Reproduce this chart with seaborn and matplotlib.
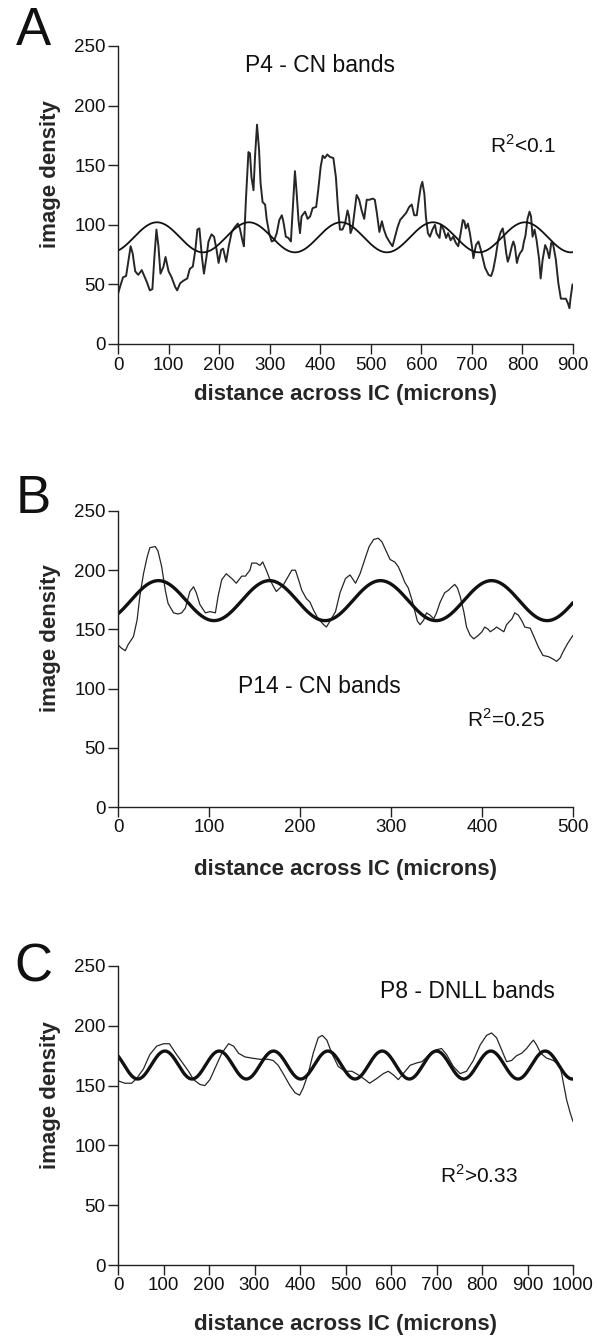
import numpy as np
import pandas as pd
import matplotlib
matplotlib.use("Agg")
import matplotlib.pyplot as plt
import seaborn as sns

# ---- panel A: P4 - CN bands (density trace) ----
a_x = [0, 4, 10, 16, 20, 25, 29, 34, 40, 47, 50, 57, 63, 68, 72, 76, 80, 84, 90, 94,
       100, 106, 113, 117, 123, 129, 137, 142, 148, 153, 157, 161, 166, 170, 175, 179,
       185, 190, 195, 199, 204, 208, 214, 219, 225, 231, 237, 241, 246, 249, 253, 258,
       261, 264, 268, 271, 275, 279, 282, 286, 291, 294, 299, 304, 309, 314, 319, 324,
       327, 332, 337, 342, 346, 350, 353, 357, 360, 363, 370, 375, 380, 385, 392, 396,
       401, 405, 409, 414, 419, 426, 431, 435, 439, 444, 449, 454, 457, 460, 464, 469,
       472, 477, 482, 487, 492, 497, 504, 508, 512, 517, 522, 526, 531, 538, 543, 548,
       553, 558, 564, 570, 576, 581, 586, 591, 595, 599, 602, 606, 609, 613, 617, 622,
       627, 630, 636, 639, 644, 649, 653, 658, 663, 668, 673, 677, 682, 685, 688, 692,
       696, 700, 703, 708, 713, 717, 721, 726, 733, 738, 742, 747, 752, 757, 761, 764,
       768, 771, 774, 779, 782, 785, 789, 792, 795, 800, 803, 806, 810, 814, 817, 820,
       824, 828, 833, 836, 840, 845, 849, 853, 857, 861, 866, 871, 876, 881, 886, 890,
       893, 895, 899]
a_y = [42, 48, 56, 57, 68, 82, 76, 61, 58, 62, 59, 52, 45, 46, 73, 96, 82, 59, 65, 73,
       61, 56, 48, 45, 51, 53, 55, 63, 65, 79, 96, 97, 73, 59, 73, 86,
       92, 90, 79, 68, 79, 80, 69, 82, 94, 98, 101, 97, 87, 82, 121, 161,
       160, 140, 129, 157, 184, 163, 135, 119, 117, 105, 93, 86, 87, 93, 104, 108,
       103, 90, 89, 86, 115, 145, 129, 104, 93, 107, 111, 105, 107, 114, 115, 129,
       149, 158, 156, 159, 157, 156, 140, 115, 96, 96, 101, 112, 107, 93, 98, 115,
       125, 121, 112, 105, 121, 121, 122, 121, 110, 94, 103, 96, 90, 85, 82, 90,
       98, 104, 107, 110, 115, 117, 108, 108, 121, 132, 136, 126, 107, 93, 90, 96,
       100, 93, 89, 100, 96, 89, 93, 87, 90, 85, 82, 91, 104, 103, 97, 101,
       93, 82, 72, 83, 86, 80, 73, 64, 58, 57, 62, 73, 87, 94, 97, 90,
       76, 69, 73, 82, 86, 82, 68, 73, 76, 79, 86, 91, 105, 111, 107, 90,
       96, 87, 71, 55, 71, 83, 79, 72, 85, 83, 71, 51, 38, 38, 38, 34,
       30, 38, 50]

# ---- panel B: P14 - CN bands ----
b_x = [0, 4, 8, 11, 17, 21, 24, 28, 32, 35, 41, 44, 48, 52, 55, 61, 66, 70, 74, 79,
       83, 86, 90, 96, 101, 107, 110, 114, 119, 125, 130, 136, 140, 145, 147, 152, 156,
       159, 163, 167, 171, 174, 178, 182, 185, 191, 195, 198, 202, 207, 211, 215, 220,
       226, 229, 233, 239, 244, 250, 255, 261, 266, 272, 276, 281, 286, 290, 293, 299,
       304, 308, 312, 315, 319, 323, 326, 329, 332, 336, 339, 343, 347, 350, 354, 359,
       363, 367, 370, 373, 376, 380, 383, 387, 391, 396, 400, 403, 407, 409, 413, 416,
       420, 424, 427, 433, 436, 440, 444, 447, 453, 457, 462, 467, 473, 478, 482, 486,
       489, 494, 500]
b_y = [137, 134, 132, 137, 144, 158, 178, 197, 211, 219, 220, 216, 203, 183, 172, 164, 163, 164, 168, 182,
       186, 181, 171, 164, 165, 164, 178, 192, 197, 193, 189, 195, 195, 200, 206, 206, 204,
       207, 200, 192, 186, 182, 185, 188, 192, 200, 200, 193, 183, 176, 173, 166, 159,
       154, 152, 157, 165, 181, 193, 196, 189, 197, 211, 220, 226, 227, 224, 219, 209,
       207, 203, 196, 190, 185, 175, 166, 157, 154, 158, 164, 162, 159, 164, 173, 181,
       183, 186, 188, 185, 178, 165, 152, 145, 142, 145, 148, 152, 150, 148, 150, 152,
       150, 148, 154, 159, 164, 162, 157, 152, 151, 144, 135, 128, 127, 125, 123, 126,
       131, 138, 145]

# ---- panel C: P8 - DNLL bands ----
c_x = [0, 15, 30, 41, 56, 70, 85, 100, 113, 125, 140, 155, 166, 180, 191, 202, 215, 228,
       243, 254, 265, 279, 294, 312, 330, 341, 352, 363, 378, 389, 399, 407, 418, 429,
       440, 449, 459, 470, 484, 499, 514, 528, 543, 553, 569, 583, 594, 605, 616, 627,
       642, 657, 668, 679, 689, 700, 711, 722, 737, 752, 766, 781, 796, 810, 821, 832,
       843, 854, 865, 876, 887, 898, 906, 913, 920, 929, 942, 957, 972, 979, 986, 994,
       1000]
c_y = [154, 152, 152, 156, 164, 176, 183, 185, 185, 178, 170, 162, 155, 151, 150, 155, 166, 177,
       185, 183, 177, 174, 173, 172, 172, 171, 167, 160, 150, 144, 142, 148, 160, 177,
       190, 192, 188, 177, 166, 162, 162, 159, 155, 152, 156, 160, 162, 159, 155, 160,
       167, 169, 170, 174, 178, 180, 181, 176, 166, 160, 162, 171, 184, 192, 194, 190,
       180, 170, 171, 175, 177, 181, 185, 188, 184, 177, 173, 171, 166, 152, 138, 127,
       120]

# sine fits as drawn: mean, amplitude, period (microns), position of first peak
fit_mean = [89.5, 174.3, 167.2]
fit_amp = [12.6, 16.9, 11.7]
fit_period = [182, 122, 119.4]
fit_peak = [77, 44.5, 103]

panel_letters = ["A", "B", "C"]
panel_titles = ["P4 - CN bands", "P14 - CN bands", "P8 - DNLL bands"]
r2_labels = [r"R$^2$<0.1", r"R$^2$=0.25", r"R$^2$>0.33"]
x_max = [900, 500, 1000]

sns.set_style("ticks")
plt.rcParams["font.family"] = ["Liberation Sans", "DejaVu Sans"]
plt.rcParams["mathtext.fontset"] = "custom"
plt.rcParams["mathtext.rm"] = "Liberation Sans"

fig = plt.figure(figsize=(5.98, 13.41), dpi=100)
W, H = 598, 1341
# axes boxes in pixels: left, top, right, bottom
boxes = [(118, 46, 573, 344), (118, 511, 573, 807), (118, 966, 573, 1265)]
letter_y = [31, 499, 967]
title_pos = [(251, 228), (132, 96), (576, 223)]
r2_pos = [(736, 160), (383, 68), (708, 69)]
xlabel_off = [-0.135, -0.175, -0.165]
trace_lw = [1.4, 0.9, 0.9]
fit_lw = [1.3, 2.4, 2.4]

traces = [(a_x, a_y), (b_x, b_y), (c_x, c_y)]

for i in range(3):
    l, t, r, b = boxes[i]
    ax = fig.add_axes([l / W, 1 - b / H, (r - l) / W, (b - t) / H])

    df = pd.DataFrame({"x": traces[i][0], "y": traces[i][1]})
    sns.lineplot(data=df, x="x", y="y", ax=ax, color="#262626", lw=trace_lw[i])

    xs = np.linspace(0, x_max[i], 600)
    fit = fit_mean[i] + fit_amp[i] * np.cos(2 * np.pi * (xs - fit_peak[i]) / fit_period[i])
    sns.lineplot(x=xs, y=fit, ax=ax, color="#111111", lw=fit_lw[i])

    ax.set_xlim(0, x_max[i])
    ax.set_ylim(0, 250)
    ax.set_xticks(np.arange(0, x_max[i] + 1, 100))
    ax.set_yticks(np.arange(0, 251, 50))
    sns.despine(ax=ax)
    for s in ["left", "bottom"]:
        ax.spines[s].set_linewidth(1.0)
        ax.spines[s].set_color("#222222")
    ax.tick_params(length=7, width=1.0, color="#222222", labelsize=13.5, pad=2,
                   labelcolor="#111111")

    ax.set_xlabel("distance across IC (microns)", fontsize=16, fontweight="bold")
    ax.set_ylabel("image density", fontsize=16, fontweight="bold")
    ax.xaxis.set_label_coords(0.5, xlabel_off[i])
    ax.yaxis.set_label_coords(-0.125, 0.57)

    ax.text(title_pos[i][0], title_pos[i][1], panel_titles[i], fontsize=16.5,
            ha="left", va="baseline", color="#111111")
    ax.text(r2_pos[i][0], r2_pos[i][1], r2_labels[i], fontsize=15,
            ha="left", va="baseline", color="#111111")

    fig.text(33 / W, 1 - letter_y[i] / H, panel_letters[i], fontsize=38,
             ha="center", va="center", color="#111111")

fig.savefig("out.png", dpi=100)
